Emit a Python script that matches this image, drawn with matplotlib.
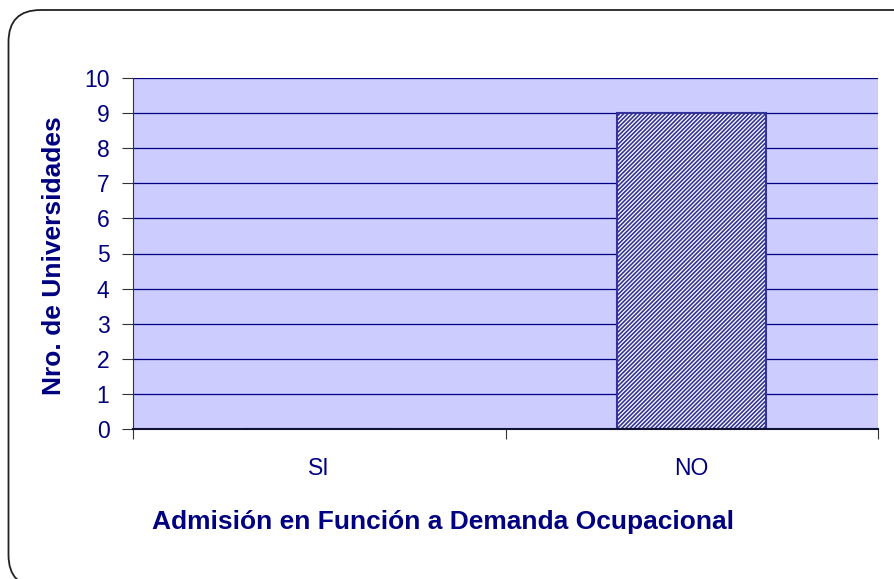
import matplotlib
matplotlib.use("Agg")
import matplotlib.pyplot as plt
from matplotlib.patches import FancyBboxPatch

categories = ["SI", "NO"]
valores = [0, 9]
yticks = list(range(0, 11))

navy = "#000080"
plt.rcParams['font.family'] = ['Liberation Sans', 'DejaVu Sans']
plt.rcParams['hatch.linewidth'] = 1.2

W, H = 894, 579
fig = plt.figure(figsize=(W / 100, H / 100), dpi=100)
fig.patch.set_facecolor("white")

# marco redondeado (en pulgadas)
box = FancyBboxPatch((0.085, -0.08), 9.3, 5.69 + 0.08,
                     boxstyle="round,pad=0,rounding_size=0.32",
                     transform=fig.dpi_scale_trans, facecolor="none",
                     edgecolor="#222222", linewidth=1.3)
fig.patches.append(box)

ax = fig.add_axes([133 / W, 1 - 429 / H, (878 - 133) / W, (429 - 78) / H])
ax.set_facecolor("#CCCCFF")
ax.set_axisbelow(True)
ax.yaxis.grid(True, color=navy, linewidth=0.9)

x = range(len(categories))
ax.bar(x, valores, width=0.4, facecolor="white", edgecolor="#333399",
       hatch="////////", linewidth=1.5, zorder=2)

ax.set_xlim(-0.5, 1.5)
ax.set_ylim(0, 10)
ax.set_yticks(yticks)
ax.set_xticks([-0.5, 0.5, 1.5])
ax.set_xticklabels([])
ax.set_xticks(list(x), minor=True)
ax.set_xticklabels(categories, minor=True)
ax.tick_params(axis="x", which="minor", length=0, pad=20, labelsize=16.5, labelcolor=navy)
ax.tick_params(axis="x", which="major", length=7, direction="out", color="#333333")
ax.tick_params(axis="y", length=8, direction="out", color="#333333", pad=9,
               labelsize=16.5, labelcolor=navy)

for s in ["top", "right"]:
    ax.spines[s].set_visible(False)
ax.spines["left"].set_color("#333333")
ax.spines["bottom"].set_color("#111133")
ax.spines["bottom"].set_linewidth(1.5)

fig.text(54 / W, 1 - 256 / H, "Nro. de Universidades", rotation=90,
         ha="center", va="center", fontsize=19, fontweight="bold", color=navy)
fig.text(443 / W, 1 - 522 / H, "Admisión en Función a Demanda Ocupacional",
         ha="center", va="center", fontsize=19, fontweight="bold", color=navy)

fig.savefig("out.png", dpi=100)
